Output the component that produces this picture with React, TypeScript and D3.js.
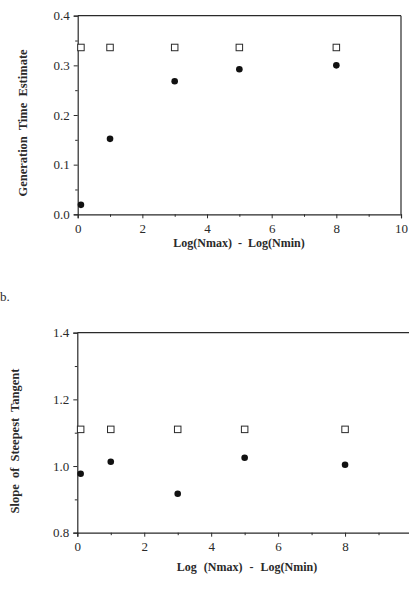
import React, {useEffect, useRef} from 'react';
import * as d3 from 'd3';

// shared x positions (log Nmax - log Nmin)
const xVals = [0.1, 1, 3, 5, 8];

// panel a: generation time estimate
const genTrue = [0.336, 0.336, 0.336, 0.336, 0.336];
const genEst = [0.019, 0.152, 0.268, 0.292, 0.300];
const genYTicks = [0.0, 0.1, 0.2, 0.3, 0.4];

// panel b: slope of steepest tangent
const slopeTrue = [1.11, 1.11, 1.11, 1.11, 1.11];
const slopeEst = [0.977, 1.013, 0.917, 1.025, 1.004];
const slopeYTicks = [0.8, 1.0, 1.2, 1.4];

const xTicksA = [0, 2, 4, 6, 8, 10];
const xTicksB = [0, 2, 4, 6, 8];
const xMinor = [1, 3, 5, 7, 9];

const App = () => {
    const ref = useRef(null);

    useEffect(() => {
        const svg = d3.select(ref.current);
        svg.selectAll("*").remove();

        const font = "'Liberation Serif', 'DejaVu Serif', serif";
        const ink = "#2a2a2a";

        function panel(opts) {
            const x = d3.scaleLinear().domain([0, 10]).range([opts.left, opts.right]);
            const y = d3.scaleLinear().domain(opts.yDomain).range([opts.bottom, opts.top]);
            const g = svg.append("g");

            // frame
            g.append("line").attr("x1", opts.left).attr("x2", opts.right)
                .attr("y1", opts.top).attr("y2", opts.top).attr("stroke", ink).attr("stroke-width", 1.2);
            if (opts.rightBorder) {
                g.append("line").attr("x1", opts.right).attr("x2", opts.right)
                    .attr("y1", opts.top).attr("y2", opts.bottom).attr("stroke", ink).attr("stroke-width", 1.2);
            }

            // axes
            g.append("g")
                .attr("class", "ax")
                .attr("transform", "translate(0," + opts.bottom + ")")
                .call(d3.axisBottom(x).tickValues(opts.xTicks).tickFormat(d3.format("d")).tickSize(4).tickPadding(5))
                .call(a => a.select(".domain").attr("stroke", ink).attr("stroke-width", 1.2));
            g.append("g")
                .attr("transform", "translate(0," + opts.bottom + ")")
                .call(d3.axisBottom(x).tickValues(xMinor).tickFormat("").tickSize(2.5))
                .call(a => a.select(".domain").remove());

            g.append("g")
                .attr("class", "ax")
                .attr("transform", "translate(" + opts.left + ",0)")
                .call(d3.axisLeft(y).tickValues(opts.yTicks).tickFormat(d3.format(".1f")).tickSize(4).tickPadding(4))
                .call(a => a.select(".domain").attr("stroke", ink).attr("stroke-width", 1.2));
            g.append("g")
                .attr("transform", "translate(" + opts.left + ",0)")
                .call(d3.axisLeft(y).tickValues(opts.yMinor).tickFormat("").tickSize(2.5))
                .call(a => a.select(".domain").remove());

            g.selectAll(".ax").attr("font-family", font).attr("font-size", 13);
            g.selectAll(".tick line").attr("stroke", ink);
            g.selectAll(".tick text")
                .style("font-family", font)
                .style("font-size", "13px")
                .attr("fill", ink);

            // open squares
            const s = 6.5;
            g.selectAll(".sq")
                .data(opts.open)
                .enter()
                .append("rect")
                .attr("x", (d, i) => x(xVals[i]) - s / 2)
                .attr("y", d => y(d) - s / 2)
                .attr("width", s)
                .attr("height", s)
                .attr("fill", "white")
                .attr("stroke", ink)
                .attr("stroke-width", 1);

            // filled circles
            g.selectAll(".dot")
                .data(opts.filled)
                .enter()
                .append("circle")
                .attr("cx", (d, i) => x(xVals[i]))
                .attr("cy", d => y(d))
                .attr("r", 3.3)
                .attr("fill", "#111");

            // titles
            g.append("text")
                .attr("transform", "translate(" + opts.yTitleX + "," + opts.yTitleY + ") rotate(-90)")
                .attr("text-anchor", "middle")
                .style("font-family", font)
                .style("font-weight", "bold")
                .style("font-size", "12.5px")
                .style("word-spacing", "3px")
                .attr("fill", ink)
                .text(opts.yTitle);

            g.append("text")
                .attr("x", opts.xTitleX)
                .attr("y", opts.xTitleY)
                .attr("text-anchor", "middle")
                .style("font-family", font)
                .style("font-weight", "bold")
                .style("font-size", "12px")
                .style("word-spacing", opts.xTitleGap + "px")
                .attr("fill", ink)
                .text(opts.xTitle);
        }

        panel({
            left: 77.7, right: 401, top: 15.7, bottom: 214.3,
            yDomain: [0, 0.4], yTicks: genYTicks, yMinor: [0.05, 0.15, 0.25, 0.35],
            xTicks: xTicksA,
            open: genTrue, filled: genEst, rightBorder: true,
            yTitle: "Generation Time Estimate", yTitleX: 27, yTitleY: 123,
            xTitle: "Log(Nmax) - Log(Nmin)", xTitleX: 239, xTitleY: 247, xTitleGap: 3
        });

        panel({
            left: 77.3, right: 412, top: 332.7, bottom: 532.7,
            yDomain: [0.8, 1.4], yTicks: slopeYTicks, yMinor: [0.9, 1.1, 1.3],
            xTicks: xTicksB,
            open: slopeTrue, filled: slopeEst, rightBorder: false,
            yTitle: "Slope of Steepest Tangent", yTitleX: 19, yTitleY: 441,
            xTitle: "Log (Nmax) - Log(Nmin)", xTitleX: 247, xTitleY: 571, xTitleGap: 4
        });

        // panel label
        svg.append("text")
            .attr("x", 0)
            .attr("y", 301)
            .style("font-family", font)
            .style("font-size", "13px")
            .attr("fill", ink)
            .text("b.");
    });

    return (
        <svg ref={ref} width={409} height={594}
             style={{position: "absolute", left: 0, top: 0, background: "white"}}/>
    );
};

export default App;
